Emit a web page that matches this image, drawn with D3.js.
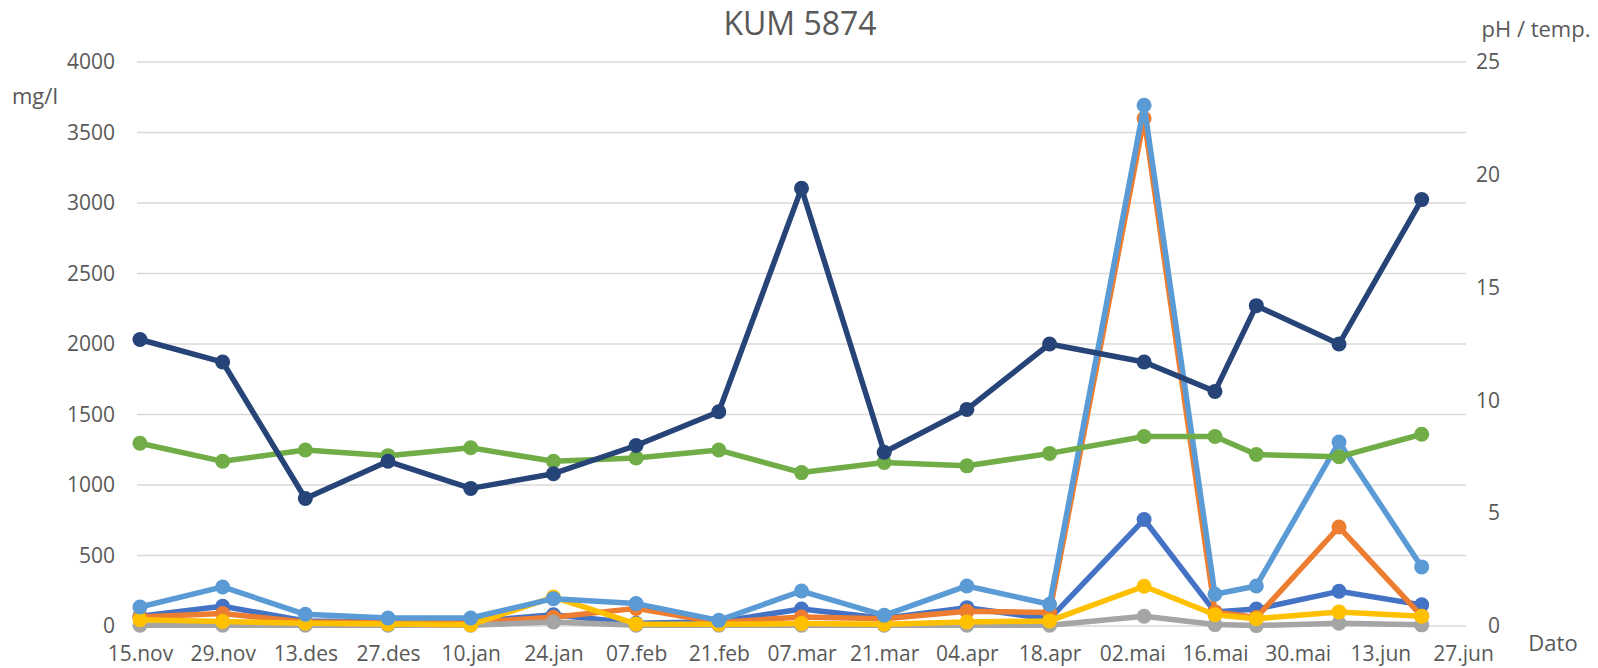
<!DOCTYPE html>
<html>
<head>
<meta charset="utf-8">
<script src="https://cdn.jsdelivr.net/npm/d3@7"></script>
<style>
  body { margin: 0; background: #fff; }
  text { font-family: "Open Sans", sans-serif; fill: #595959; }
</style>
</head>
<body>
<svg id="chart" width="1598" height="668"></svg>
<script>
// sampling dates (dd.mm.yyyy)
var dates = ["15.11.2016", "29.11.2016", "13.12.2016", "27.12.2016", "10.01.2017", "24.01.2017",
  "07.02.2017", "21.02.2017", "07.03.2017", "21.03.2017", "04.04.2017", "18.04.2017",
  "04.05.2017", "16.05.2017", "23.05.2017", "06.06.2017", "20.06.2017"];

// mg/l series (left axis)
var blue      = [70, 140, 35, 30, 30, 80, 20, 30, 120, 55, 130, 50, 755, 100, 120, 246, 150];
var orange    = [64, 88, 28, 25, 25, 62, 125, 25, 64, 52, 104, 95, 3600, 100, 60, 702, 70];
var gray      = [5, 5, 5, 5, 5, 28, 5, 5, 5, 5, 5, 5, 69, 10, 3, 20, 8];
var yellow    = [45, 32, 20, 15, 8, 205, 15, 12, 17, 12, 28, 36, 282, 80, 52, 100, 69];
var lightBlue = [135, 277, 83, 57, 57, 194, 159, 40, 248, 76, 284, 154, 3693, 225, 284, 1305, 419];

// pH / temp. series (right axis)
var pH   = [8.1, 7.3, 7.8, 7.55, 7.9, 7.3, 7.45, 7.8, 6.8, 7.25, 7.1, 7.65, 8.4, 8.4, 7.6, 7.5, 8.5];
var temp = [12.7, 11.7, 5.65, 7.3, 6.1, 6.75, 8.0, 9.5, 19.4, 7.7, 9.6, 12.5, 11.7, 10.4, 14.2, 12.5, 18.9];

var leftTicks = [0, 500, 1000, 1500, 2000, 2500, 3000, 3500, 4000];
var rightTicks = [0, 5, 10, 15, 20, 25];
var monthNames = ["jan", "feb", "mar", "apr", "mai", "jun", "jul", "aug", "sep", "okt", "nov", "des"];

var series = [
  {values: blue, color: "#4472C4", axis: "left"},
  {values: orange, color: "#ED7D31", axis: "left"},
  {values: gray, color: "#A5A5A5", axis: "left"},
  {values: yellow, color: "#FFC000", axis: "left"},
  {values: lightBlue, color: "#5B9BD5", axis: "left"},
  {values: pH, color: "#70AD47", axis: "right"},
  {values: temp, color: "#264478", axis: "right"}
];

var parseDate = d3.timeParse("%d.%m.%Y");
var day = 24 * 3600 * 1000;

var svg = d3.select("#chart"),
  margin = {top: 62, right: 132, bottom: 42, left: 137},
  width = +svg.attr("width") - margin.left - margin.right,
  height = +svg.attr("height") - margin.top - margin.bottom,
  g = svg.append("g").attr("transform", "translate(" + margin.left + "," + margin.top + ")");

// date axis with one slot per day, points in the middle of each slot
var axisStart = parseDate("15.11.2016"),
  axisEnd = parseDate("27.06.2017");
var x = d3.scaleTime()
  .domain([new Date(axisStart - day / 2), new Date(+axisEnd + day / 2)])
  .range([0, width]);

var yLeft = d3.scaleLinear().domain([0, 4000]).range([height, 0]);
var yRight = d3.scaleLinear().domain([0, 25]).range([height, 0]);

// gridlines
g.append("g")
  .selectAll("line")
  .data(leftTicks)
  .enter().append("line")
  .attr("x1", 0)
  .attr("x2", width)
  .attr("y1", function(d) { return yLeft(d); })
  .attr("y2", function(d) { return yLeft(d); })
  .attr("stroke", "#d9d9d9")
  .attr("stroke-width", 1.3);

// left axis
var leftAxis = g.append("g")
  .call(d3.axisLeft(yLeft).tickValues(leftTicks).tickSize(0).tickPadding(22).tickFormat(d3.format("d")));
leftAxis.select(".domain").remove();
leftAxis.selectAll("text").attr("font-size", 21).attr("fill", "#595959").attr("font-family", "Open Sans");

// right axis
var rightAxis = g.append("g")
  .attr("transform", "translate(" + width + ",0)")
  .call(d3.axisRight(yRight).tickValues(rightTicks).tickSize(0).tickPadding(34));
rightAxis.select(".domain").remove();
rightAxis.selectAll("text")
  .attr("font-size", 21).attr("fill", "#595959").attr("font-family", "Open Sans")
  .attr("text-anchor", "end");

// x axis, a label every 14 days
var xTicks = d3.timeDay.every(1).range(axisStart, new Date(+axisEnd + day)).filter(function(d, i) { return i % 14 === 0; });
var xAxis = g.append("g")
  .attr("transform", "translate(0," + height + ")")
  .call(d3.axisBottom(x).tickValues(xTicks).tickSize(0).tickPadding(20)
    .tickFormat(function(d) { return d3.timeFormat("%d")(d) + "." + monthNames[d.getMonth()]; }));
xAxis.select(".domain").remove();
xAxis.selectAll("text").attr("font-size", 21).attr("fill", "#595959").attr("font-family", "Open Sans");

// series lines and markers
var line = function(s) {
  var yScale = s.axis === "left" ? yLeft : yRight;
  return d3.line()
    .x(function(d, i) { return x(parseDate(dates[i])); })
    .y(function(d) { return yScale(d); });
};

series.forEach(function(s) {
  var yScale = s.axis === "left" ? yLeft : yRight;
  var sg = g.append("g");
  sg.append("path")
    .datum(s.values)
    .attr("fill", "none")
    .attr("stroke", s.color)
    .attr("stroke-width", 5.5)
    .attr("stroke-linejoin", "round")
    .attr("d", line(s));
  sg.selectAll("circle")
    .data(s.values)
    .enter().append("circle")
    .attr("cx", function(d, i) { return x(parseDate(dates[i])); })
    .attr("cy", function(d) { return yScale(d); })
    .attr("r", 7.5)
    .attr("fill", s.color);
});

// titles
svg.append("text")
  .attr("x", 800)
  .attr("y", 23.5)
  .attr("dy", "0.35em")
  .attr("text-anchor", "middle")
  .attr("font-size", 32)
  .text("KUM 5874");

svg.append("text")
  .attr("x", 12)
  .attr("y", 96)
  .attr("dy", "0.35em")
  .attr("font-size", 22)
  .text("mg/l");

svg.append("text")
  .attr("x", 1536)
  .attr("y", 29)
  .attr("dy", "0.35em")
  .attr("text-anchor", "middle")
  .attr("font-size", 22)
  .text("pH / temp.");

svg.append("text")
  .attr("x", 1553)
  .attr("y", 643)
  .attr("dy", "0.35em")
  .attr("text-anchor", "middle")
  .attr("font-size", 22)
  .text("Dato");
</script>
</body>
</html>
